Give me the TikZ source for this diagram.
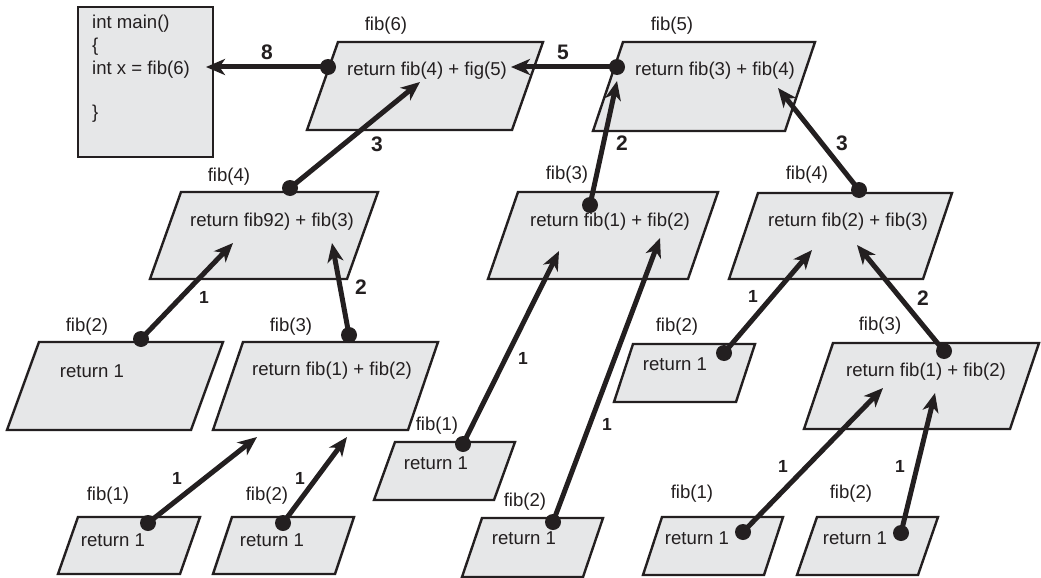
\documentclass[tikz,border=0pt]{standalone}
\usepackage{fontspec}
\setmainfont{Liberation Sans}
\usetikzlibrary{arrows.meta}
\definecolor{boxfill}{RGB}{230,231,232}
\definecolor{ink}{RGB}{35,31,32}
% #1 name, #2 top-left x, #3 top y, #4 width, #5 height, #6 skew
\newcommand{\pgram}[6]{\filldraw[pbox] (#2,#3) coordinate (#1) -- ++(#4,0) -- ++(-#6,#5) -- ++(-#4,0) -- cycle;}
\begin{document}
\begin{tikzpicture}[x=1pt,y=-1pt,
  pbox/.style={fill=boxfill,draw=ink,line width=2.4pt,line join=miter},
  txt/.style={inner sep=0pt,text=ink,font=\fontsize{18.6}{22}\selectfont},
  big/.style={inner sep=0pt,text=ink,font=\bfseries\fontsize{21}{24}\selectfont},
  small/.style={inner sep=0pt,text=ink,font=\bfseries\fontsize{17.5}{20}\selectfont},
  dot/.style={circle,fill=ink,inner sep=0pt,minimum size=16pt},
  arr/.style={draw=ink,line width=5pt,-{Stealth[length=19pt,width=16pt,inset=5.5pt]}},
]
\useasboundingbox (0,0) rectangle (1041,578);

% main box
\node[draw=ink,fill=boxfill,line width=2.4pt,minimum width=135pt,minimum height=150pt,anchor=north west,inner sep=0pt] (main) at (77,6) {};
\node[txt,anchor=west] (m1) at (92,24) {int main()};
\node[txt,anchor=west] (m2) at (92,47) {\{};
\node[txt,anchor=west] (m3) at (92,70) {int x = fib(6)};
\node[txt,anchor=west] (m4) at (92,114) {\}};

% parallelograms
\pgram{p6}{338}{42}{205}{88}{31}
\pgram{p5}{623}{42}{192}{89}{30}
\pgram{p4L}{181}{192}{197}{87}{31}
\pgram{p3M}{518}{192}{200}{87}{30}
\pgram{p4R}{758}{193}{194}{86}{29}
\pgram{p2L}{39}{342}{184}{88}{32}
\pgram{p3L}{243}{342}{195}{88}{30}
\pgram{p2R}{633}{344}{122}{58}{19}
\pgram{p3R}{833}{343}{206}{86}{29}
\pgram{p1M}{395}{442}{120}{58}{21}
\pgram{p2M}{482}{518}{121}{59}{20}
\pgram{p1BL}{78}{517}{122}{57}{20}
\pgram{p2BL}{232}{517}{122}{57}{19}
\pgram{p1BR}{662}{517}{121}{58}{19}
\pgram{p2BR}{817}{517}{121}{58}{20}

% texts in boxes
\node[txt] (r6) at (427,71) {return fib(4) + fig(5)};
\node[txt] (r5) at (715,71) {return fib(3) + fib(4)};
\node[txt] (r4L) at (272,222) {return fib92) + fib(3)};
\node[txt] (r3M) at (610,222) {return fib(1) + fib(2)};
\node[txt] (r4R) at (848,222) {return fib(2) + fib(3)};
\node[txt] (r2L) at (92,371) {return 1};
\node[txt] (r3L) at (332,371) {return fib(1) + fib(2)};
\node[txt] (r2R) at (675,364) {return 1};
\node[txt] (r3R) at (926,372) {return fib(1) + fib(2)};
\node[txt] (r1M) at (436,463) {return 1};
\node[txt] (r2M) at (524,538) {return 1};
\node[txt] (r1BL) at (113,540) {return 1};
\node[txt] (r2BL) at (272,540) {return 1};
\node[txt] (r1BR) at (697,538) {return 1};
\node[txt] (r2BR) at (855,538) {return 1};

% fib labels
\node[txt] (l6) at (386,26) {fib(6)};
\node[txt] (l5) at (672,26) {fib(5)};
\node[txt] (l4L) at (229,177) {fib(4)};
\node[txt] (l3M) at (567,175) {fib(3)};
\node[txt] (l4R) at (807,175) {fib(4)};
\node[txt] (l2L) at (87,327) {fib(2)};
\node[txt] (l3L) at (291,327) {fib(3)};
\node[txt] (l2R) at (677,327) {fib(2)};
\node[txt] (l3R) at (880,326) {fib(3)};
\node[txt] (l1M) at (437,426) {fib(1)};
\node[txt] (l2M) at (525,502) {fib(2)};
\node[txt] (l1BL) at (108,496) {fib(1)};
\node[txt] (l2BL) at (267,496) {fib(2)};
\node[txt] (l1BR) at (692,494) {fib(1)};
\node[txt] (l2BR) at (851,494) {fib(2)};

% dots
\node[dot] (d6) at (328,67) {};
\node[dot] (d5) at (617,67) {};
\node[dot] (d4L) at (290,188) {};
\node[dot] (d3M) at (590,205) {};
\node[dot] (d4R) at (859,190) {};
\node[dot] (d2L) at (141,339) {};
\node[dot] (d3L) at (349,335) {};
\node[dot] (d1M) at (463,444) {};
\node[dot] (d2M) at (553,522) {};
\node[dot] (d2R) at (724,353) {};
\node[dot] (d3R) at (944,351) {};
\node[dot] (d1BL) at (148,523) {};
\node[dot] (d2BL) at (283,523) {};
\node[dot] (d1BR) at (743,532) {};
\node[dot] (d2BR) at (901,533) {};

% arrow tips
\coordinate (t6) at (206,67);
\coordinate (t5) at (511,67);
\coordinate (t4L) at (420,82);
\coordinate (t3M) at (617,81);
\coordinate (t4R) at (778,88);
\coordinate (t2L) at (233,243);
\coordinate (t3L) at (332,243);
\coordinate (t1M) at (559,251);
\coordinate (t2M) at (660,238);
\coordinate (t2R) at (812,250);
\coordinate (t3R) at (857,245);
\coordinate (t1BL) at (257,437);
\coordinate (t2BL) at (347,437);
\coordinate (t1BR) at (883,388);
\coordinate (t2BR) at (935,393);

% arrows
\foreach \n in {6,5,4L,3M,4R,2L,3L,1M,2M,2R,3R,1BL,2BL,1BR,2BR}
  \draw[arr] (d\n.center) -- (t\n);

% value labels
\node[big] (v8) at (267,52) {8};
\node[big] (v5) at (563,52) {5};
\node[big] (v3a) at (377,144) {3};
\node[big] (v2a) at (622,143) {2};
\node[big] (v3b) at (842,143) {3};
\node[big] (v2b) at (361,287) {2};
\node[big] (v2c) at (923,298) {2};
\node[small] (v1a) at (204,297) {1};
\node[small] (v1b) at (523,358) {1};
\node[small] (v1c) at (607,424) {1};
\node[small] (v1d) at (753,296) {1};
\node[small] (v1e) at (177,478) {1};
\node[small] (v1f) at (300,478) {1};
\node[small] (v1g) at (783,466) {1};
\node[small] (v1h) at (900,466) {1};
\end{tikzpicture}
\end{document}
